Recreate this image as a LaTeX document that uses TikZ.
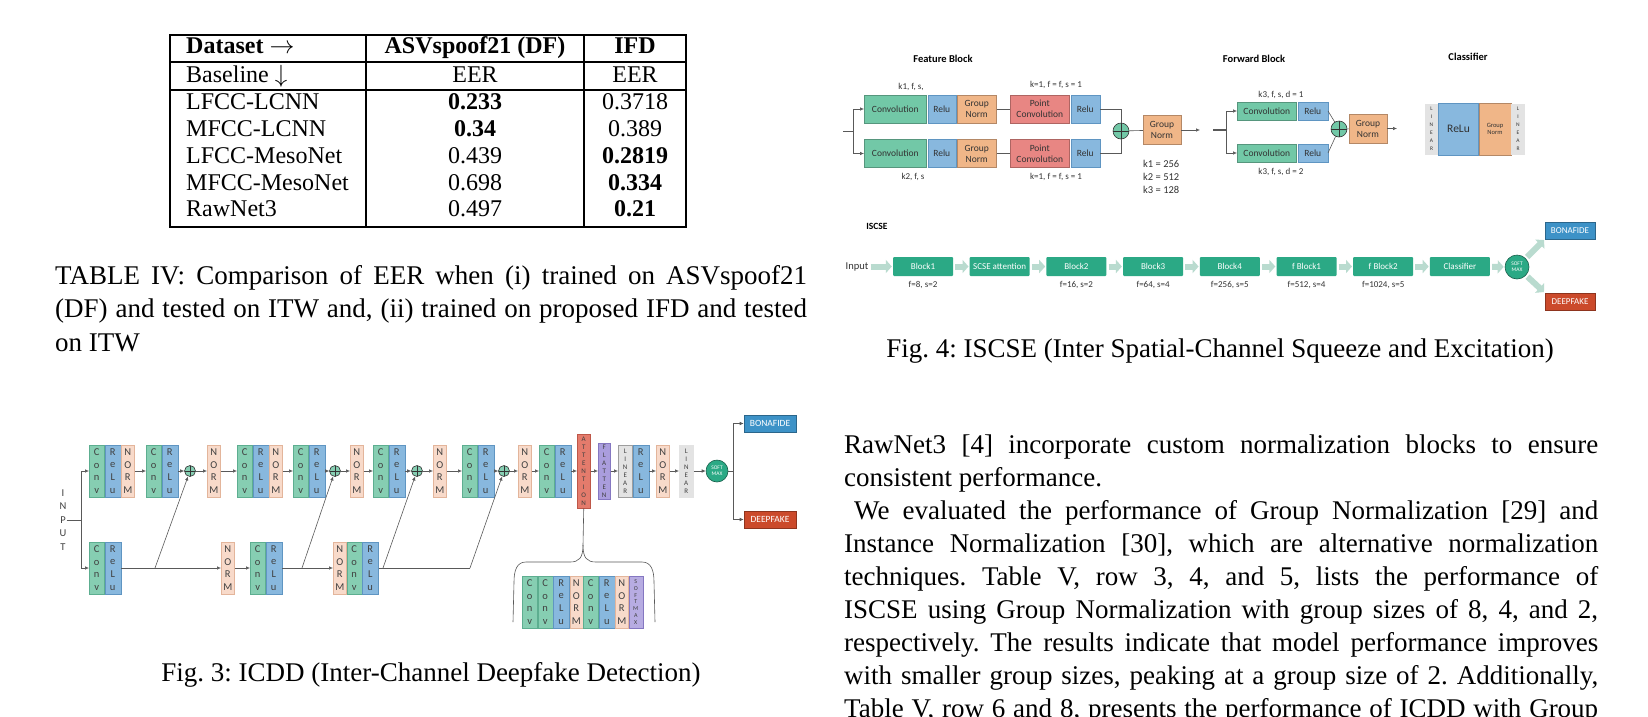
\documentclass[tikz,border=0pt]{standalone}
\usepackage{fontspec}
\setmainfont{Liberation Serif}
\newfontfamily\carl{Carlito}
\usetikzlibrary{positioning,arrows.meta}
\frenchspacing

% colours of the two figures
\definecolor{gconv}{HTML}{86CEB2}
\definecolor{gconvd}{HTML}{5DAE90}
\definecolor{grelu}{HTML}{88B8DE}
\definecolor{grelud}{HTML}{5F95C2}
\definecolor{gnorm}{HTML}{F8DACA}
\definecolor{gnormd}{HTML}{E3B59B}
\definecolor{gatt}{HTML}{E47B6C}
\definecolor{gattd}{HTML}{BE5748}
\definecolor{gflat}{HTML}{AA9DDD}
\definecolor{gflatd}{HTML}{8577C1}
\definecolor{glin}{HTML}{E3E3E3}
\definecolor{glind}{HTML}{9E9E9E}
\definecolor{fconvc}{HTML}{72C8A7}
\definecolor{fgnc}{HTML}{F0B688}
\definecolor{fpcc}{HTML}{E88683}
\definecolor{sgreen}{HTML}{2BA985}
\definecolor{fatc}{HTML}{B9DBCF}
\definecolor{bonac}{HTML}{3D92C7}
\definecolor{deepc}{HTML}{CB4A2B}

\newcommand\cvt{C\\o\\n\\v}
\newcommand\rlt{R\\e\\L\\u}
\newcommand\nmt{N\\O\\R\\M}
\newcommand\lnt{L\\I\\N\\E\\A\\R}
\newcommand\jl[2][754pt]{\hbox to #1{#2}}

\tikzset{
  tx/.style={font=\fontsize{27}{33}\selectfont, anchor=base west},
  tb/.style={font=\fontsize{24}{27}\selectfont, anchor=base},
  tl/.style={line width=1.1pt},
  % figure 3
  bx/.style={rectangle, draw, line width=0.5pt, minimum height=52pt, align=center,
    text=black!75, font=\carl\fontsize{10.5}{12.7}\selectfont},
  conv/.style={bx, fill=gconv, draw=gconvd, minimum width=15pt},
  relu/.style={bx, fill=grelu, draw=grelud, minimum width=16pt},
  norm/.style={bx, fill=gnorm, draw=gnormd, minimum width=13pt},
  attn/.style={bx, fill=gatt, draw=gattd, minimum width=13pt, minimum height=74pt,
    font=\carl\fontsize{7}{8}\selectfont},
  flat/.style={bx, fill=gflat, draw=gflatd, minimum width=12pt, minimum height=56pt,
    font=\carl\fontsize{7}{8}\selectfont},
  lin/.style={bx, fill=glin, draw=glind, minimum width=14pt, font=\carl\fontsize{7}{8}\selectfont},
  linb/.style={lin, draw=glin},
  soft/.style={bx, fill=gflat!85, draw=gflatd, minimum width=14pt, font=\carl\fontsize{6}{6.8}\selectfont},
  smax/.style={circle, fill=sgreen, draw=sgreen!55!black, line width=0.6pt, minimum size=22pt,
    align=center, text=white, font=\carl\fontsize{5.5}{6}\selectfont},
  outb/.style={rectangle, draw, line width=0.6pt, minimum width=52pt, minimum height=17pt,
    text=white, font=\carl\fontsize{9.5}{10}\selectfont},
  plus/.style={circle, draw=black!80, fill=gconv, line width=0.6pt, minimum size=11pt,
    path picture={\draw[black!80, line width=0.6pt]
      (path picture bounding box.north) -- (path picture bounding box.south)
      (path picture bounding box.west) -- (path picture bounding box.east);}},
  ln/.style={draw=black!65, line width=0.6pt},
  ar/.style={ln, -{Latex[length=4pt,width=3.5pt]}},
  % figure 4
  fb/.style={rectangle, draw, line width=0.5pt, minimum height=28pt, align=center,
    text=black!80, font=\carl\fontsize{9.5}{11}\selectfont},
  fconv/.style={fb, fill=fconvc, draw=fconvc!75!black},
  frelu/.style={fb, fill=grelu, draw=grelud},
  fgn/.style={fb, fill=fgnc, draw=fgnc!75!black},
  fpc/.style={fb, fill=fpcc, draw=fpcc!75!black},
  flbl/.style={font=\carl\fontsize{9}{10}\selectfont, text=black!80},
  fttl/.style={font=\carl\bfseries\fontsize{10.5}{12}\selectfont},
  sblk/.style={rectangle, fill=sgreen, rounded corners=1pt, minimum width=60pt, minimum height=19pt,
    text=white, font=\carl\fontsize{9}{10}\selectfont},
  fat/.style={draw=fatc, line width=6pt, -{Triangle[length=6pt,width=13pt]}, shorten <=2pt, shorten >=1pt},
}

\begin{document}
\begin{tikzpicture}[x=1pt,y=-1pt,every node/.style={inner sep=0pt}]
\fill[white] (0,0) rectangle (1648,716);
\useasboundingbox (0,0) rectangle (1648,716);

% table IV
\draw[tl] (170,35) rectangle (686,227);
\draw[tl] (170,62) -- (686,62) (170,90) -- (686,90) (366,35) -- (366,227) (584,35) -- (584,227);
\node[tb, anchor=base west] (h1) at (186,53.6) {\textbf{Dataset} $\rightarrow$};
\node[tb] (h2) at (475,53.6) {\textbf{ASVspoof21 (DF)}};
\node[tb] (h3) at (635,53.6) {\textbf{IFD}};
\foreach \y/\a/\b/\c [count=\i] in {82/Baseline $\downarrow$/EER/EER,
  109.3/LFCC-LCNN/\textbf{0.233}/0.3718, 136.6/MFCC-LCNN/\textbf{0.34}/0.389,
  163/LFCC-MesoNet/0.439/\textbf{0.2819}, 190/MFCC-MesoNet/0.698/\textbf{0.334},
  216.5/RawNet3/0.497/\textbf{0.21}} {
  \node[tb, anchor=base west] (a\i) at (186,\y) {\a};
  \node[tb] (b\i) at (475,\y) {\b};
  \node[tb] (c\i) at (635,\y) {\c};
}
\node[tx] (cap1) at (55,284) {\jl[752pt]{TABLE IV: Comparison of EER when (i) trained on ASVspoof21}};
\node[tx] (cap2) at (55,317.5) {\jl[752pt]{(DF) and tested on ITW and, (ii) trained on proposed IFD and tested}};
\node[tx] (cap3) at (55,351) {on ITW};

% fig 3: ICDD
\node[align=center, font=\carl\fontsize{10.5}{13.4}\selectfont, text=black!75] (inp) at (63,520) {I\\N\\P\\U\\T};
\node[conv,anchor=west] (t1c) at (89,471) {\cvt};
\node[relu,right=0pt of t1c] (t1r) {\rlt};
\node[norm,right=0pt of t1r] (t1n) {\nmt};
\node[conv,anchor=west] (t2c) at (146,471) {\cvt};
\node[relu,right=0pt of t2c] (t2r) {\rlt};
\node[plus] (p1) at (190,471) {};
\node[norm,anchor=west] (n1) at (207,471) {\nmt};
\node[conv,anchor=west] (t3c) at (237,471) {\cvt};
\node[relu,right=0pt of t3c] (t3r) {\rlt};
\node[norm,right=0pt of t3r] (t3n) {\nmt};
\node[conv,anchor=west] (t4c) at (293,471) {\cvt};
\node[relu,right=0pt of t4c] (t4r) {\rlt};
\node[plus] (p2) at (335,471) {};
\node[norm,anchor=west] (n2) at (350,471) {\nmt};
\node[conv,anchor=west] (t5c) at (373,471) {\cvt};
\node[relu,right=0pt of t5c] (t5r) {\rlt};
\node[plus] (p3) at (417,471) {};
\node[norm,anchor=west] (n3) at (433,471) {\nmt};
\node[conv,anchor=west] (t6c) at (462,471) {\cvt};
\node[relu,right=0pt of t6c] (t6r) {\rlt};
\node[plus] (p4) at (504,471) {};
\node[norm,anchor=west] (n4) at (518,471) {\nmt};
\node[conv,anchor=west] (t7c) at (539,471) {\cvt};
\node[relu,right=0pt of t7c] (t7r) {\rlt};
\node[attn,anchor=west] (att) at (577,471) {A\\T\\T\\E\\N\\T\\I\\O\\N};
\node[flat,anchor=west] (fl) at (598,471) {F\\L\\A\\T\\T\\E\\N};
\node[lin,anchor=west] (l1) at (618,471) {\lnt};
\node[relu,right=0pt of l1] (l1r) {\rlt};
\node[norm,anchor=west] (n5) at (656,471) {\nmt};
\node[linb,anchor=west] (l2) at (679,471) {\lnt};
\node[smax] (sm) at (717,471) {SOFT\\MAX};
\node[outb, fill=bonac, draw=bonac!70!black] (bona) at (770,423.5) {BONAFIDE};
\node[outb, fill=deepc, draw=deepc!70!black] (deep) at (770,519.5) {DEEPFAKE};

\node[conv,anchor=west] (b1c) at (89,568) {\cvt};
\node[relu,right=0pt of b1c] (b1r) {\rlt};
\node[norm,anchor=west] (bn1) at (221,568) {\nmt};
\node[conv,anchor=west] (b2c) at (250,568) {\cvt};
\node[relu,right=0pt of b2c] (b2r) {\rlt};
\node[norm,anchor=west] (b3n) at (333,568) {\nmt};
\node[conv,right=0pt of b3n] (b3c) {\cvt};
\node[relu,right=0pt of b3c] (b3r) {\rlt};

% attention inset
\node[conv,anchor=west] (i1) at (522,602) {\cvt};
\node[conv,right=0pt of i1] (i2) {\cvt};
\node[relu,right=0pt of i2] (i3) {\rlt};
\node[norm,right=0pt of i3] (i4) {\nmt};
\node[conv,right=0pt of i4] (i5) {\cvt};
\node[relu,right=0pt of i5] (i6) {\rlt};
\node[norm,right=0pt of i6] (i7) {\nmt};
\node[soft,right=0pt of i7] (i8) {S\\O\\F\\T\\M\\A\\X};

\coordinate (sp) at (81,520);
\coordinate (so) at (733,471);
\coordinate (d1) at (155,568);
\coordinate (d2) at (302,568);
\coordinate (d3) at (383,568);
\coordinate (d4) at (470,568);
\draw[ln] (inp.east) -- (sp);
\draw[ar] (sp) |- (t1c.west);
\draw[ar] (sp) |- (b1c.west);
\foreach \from/\to in {t1n/t2c,t2r/p1,p1/n1,n1/t3c,t3n/t4c,t4r/p2,p2/n2,n2/t5c,t5r/p3,
  p3/n3,n3/t6c,t6r/p4,p4/n4,n4/t7c,t7r/att,att/fl,fl/l1,l1r/n5,n5/l2,l2/sm,
  b1r/bn1,bn1/b2c,b2r/b3n,d1/p1,d2/p2,d3/p3,d4/p4}
  \draw[ar] (\from) -- (\to);
\draw[ln] (b3r.east) -- (d4);
\draw[ln] (sm) -- (so);
\draw[ar] (so) |- (bona);
\draw[ar] (so) |- (deep);
\draw[ln] (att.south) -- (583,545) .. controls (583,558) and (579,562) .. (570,562) -- (526,562)
  .. controls (517,562) and (514,570) .. (514,582) -- (513,622);
\draw[ln] (583,545) .. controls (583,558) and (587,562) .. (596,562) -- (642,562)
  .. controls (651,562) and (654,570) .. (654,582) -- (655,622);
\node[anchor=base, font=\fontsize{27}{33}\selectfont] (fig3) at (431,681) {Fig. 3: ICDD (Inter-Channel Deepfake Detection)};

% fig 4: ISCSE, feature block
\node[fttl] (tfb) at (943,59) {Feature Block};
\node[fttl] (twb) at (1254,59) {Forward Block};
\node[fttl] (tcl) at (1468,57) {Classifier};
\node[plus, fill=fconvc, minimum size=16pt] (fs) at (1121,131) {};
\coordinate (fsp) at (853,131);
\draw[ln] (843,131) -- (fsp);
\foreach \r/\y in {1/109,2/153.5} {
  \node[fconv, minimum width=62pt, anchor=west] (fc\r) at (864,\y) {Convolution};
  \node[frelu, minimum width=28pt, right=1pt of fc\r] (fr\r) {Relu};
  \node[fgn, minimum width=39pt, right=1pt of fr\r] (fg\r) {Group\\Norm};
  \node[fpc, minimum width=59pt, anchor=west] (fp\r) at (1010,\y) {Point\\Convolution};
  \node[frelu, minimum width=29pt, right=1pt of fp\r] (fq\r) {Relu};
  \draw[ar] (fsp) |- (fc\r.west);
  \draw[ln] (fg\r) -- (fp\r);
  \draw[ln] (fq\r.east) -| (fs);
}
\node[flbl] (k1) at (911,87) {k1, f, s,};
\node[flbl] (k2) at (913,177) {k2, f, s};
\node[flbl] (k3) at (1056,85) {k=1, f = f, s = 1};
\node[flbl] (k4) at (1056,177) {k=1, f = f, s = 1};
\node[fgn, minimum width=38pt, minimum height=29pt] (fgn) at (1162,130) {Group\\Norm};
\node[flbl, anchor=west, align=left, font=\carl\fontsize{10.5}{13}\selectfont] (kk) at (1143,177) {k1 = 256\\k2 = 512\\k3 = 128};
\coordinate (fo) at (1200,130);
\draw[ln] (fs) -- (fgn);
\draw[ar] (fgn) -- (fo);

% forward block
\coordinate (wi) at (1213,130);
\coordinate (wsp) at (1226,130);
\draw[ln, line width=1.2pt] (wi) -- (wsp);
\node[plus, fill=fconvc, minimum size=16pt] (ws) at (1339,129) {};
\foreach \r/\y in {1/111,2/153} {
  \node[fconv, minimum width=59pt, minimum height=18pt, anchor=west] (wc\r) at (1237,\y) {Convolution};
  \node[frelu, minimum width=30pt, minimum height=18pt, right=1pt of wc\r] (wr\r) {Relu};
  \draw[ar] (wsp) |- (wc\r.west);
  \draw[ln] (wr\r.east) -- (ws);
}
\node[flbl] (k5) at (1281,95) {k3, f, s, d = 1};
\node[flbl] (k6) at (1281,172) {k3, f, s, d = 2};
\node[fgn, minimum width=38pt, minimum height=29pt] (wgn) at (1368,128.5) {Group\\Norm};
\coordinate (wo) at (1397,128.5);
\draw[ln] (ws) -- (wgn);
\draw[ar] (wgn) -- (wo);

% classifier
\node[fb, fill=glin, draw=glin, minimum width=13pt, minimum height=50pt, font=\carl\fontsize{5.5}{8}\selectfont] (cl1) at (1431.5,129) {\lnt};
\node[frelu, minimum width=40pt, minimum height=52pt, right=0pt of cl1, font=\carl\fontsize{11.5}{12}\selectfont] (clr) {ReLu};
\node[fgn, minimum width=32pt, minimum height=52pt, right=0pt of clr, font=\carl\fontsize{6.5}{7.5}\selectfont] (clg) {Group\\Norm};
\node[fb, fill=glin, draw=glin, minimum width=13pt, minimum height=50pt, right=0pt of clg, font=\carl\fontsize{5.5}{8}\selectfont] (cl2) {\lnt};

% ISCSE row
\node[fttl, font=\carl\bfseries\fontsize{9.5}{10}\selectfont] (tis) at (877,226) {ISCSE};
\node[flbl, font=\carl\fontsize{10.5}{11}\selectfont] (inpt) at (857,266.5) {Input};
\foreach \i/\t in {0/Block1,1/SCSE attention,2/Block2,3/Block3,4/Block4,5/f Block1,6/f Block2,7/Classifier}
  \node[sblk] (s\i) at ({923+76.7*\i},266.5) {\t};
\foreach \i/\t in {0/{f=8, s=2},2/{f=16, s=2},3/{f=64, s=4},4/{f=256, s=5},5/{f=512, s=4},6/{f=1024, s=5}}
  \node[flbl, font=\carl\fontsize{9}{10}\selectfont] (f\i) at ({923+76.7*\i},285) {\t};
\node[smax, minimum size=24pt] (ssm) at (1517,267) {SOFT\\MAX};
\node[outb, fill=bonac, draw=bonac!70!black, minimum width=50pt, font=\carl\fontsize{9}{10}\selectfont] (sbona) at (1570,230.5) {BONAFIDE};
\node[outb, fill=deepc, draw=deepc!70!black, minimum width=50pt, font=\carl\fontsize{9}{10}\selectfont] (sdeep) at (1570,301.5) {DEEPFAKE};
\draw[fat] (inpt) -- (s0);
\foreach \i/\j in {0/1,1/2,2/3,3/4,4/5,5/6,6/7}
  \draw[fat] (s\i) -- (s\j);
\draw[fat] (s7) -- (ssm);
\draw[fat] (ssm) -- (sbona.south west);
\draw[fat] (ssm) -- (sdeep.north west);
\node[anchor=base, font=\fontsize{27}{33}\selectfont] (fig4) at (1220,357) {Fig. 4: ISCSE (Inter Spatial-Channel Squeeze and Excitation)};

% body text, right column
\node[tx] (r1) at (844,453) {\jl{RawNet3 [4] incorporate custom normalization blocks to ensure}};
\node[tx] (r2) at (844,486) {consistent performance.};
\node[tx] (r3) at (854,519) {\jl[744pt]{We evaluated the performance of Group Normalization [29] and}};
\node[tx] (r4) at (844,552) {\jl{Instance Normalization [30], which are alternative normalization}};
\node[tx] (r5) at (844,585) {\jl{techniques. Table V, row 3, 4, and 5, lists the performance of}};
\node[tx] (r6) at (844,618) {\jl{ISCSE using Group Normalization with group sizes of 8, 4, and 2,}};
\node[tx] (r7) at (844,651) {\jl{respectively. The results indicate that model performance improves}};
\node[tx] (r8) at (844,684) {\jl{with smaller group sizes, peaking at a group size of 2. Additionally,}};
\node[tx] (r9) at (844,717) {\jl{Table V, row 6 and 8, presents the performance of ICDD with Group}};
\end{tikzpicture}
\end{document}
